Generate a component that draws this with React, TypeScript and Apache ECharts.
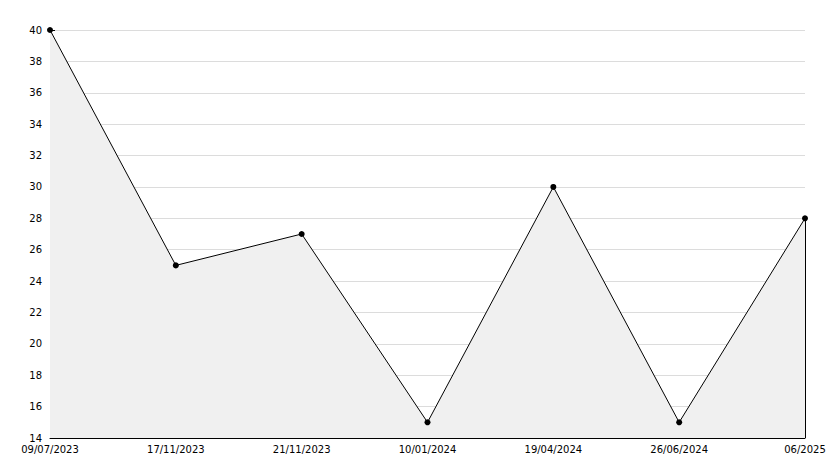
import React, { useEffect, useRef } from "react";
import * as echarts from "echarts";

const categories = ["09/07/2023", "17/11/2023", "21/11/2023", "10/01/2024", "19/04/2024", "26/06/2024", "06/2025"];
const values = [40, 25, 27, 15, 30, 15, 28];
const yMin = 14;
const yMax = 40;
const yStep = 2;

export default function App() {
  const ref = useRef<HTMLDivElement>(null);
  useEffect(() => {
    if (!ref.current) return;
    const chart = echarts.init(ref.current, null, { renderer: "svg" });
    const lastIdx = categories.length - 1;
    chart.setOption({
      animation: false,
      backgroundColor: "#ffffff",
      grid: { left: 50, right: 29, top: 30, bottom: 30 },
      xAxis: {
        type: "category",
        data: categories,
        boundaryGap: false,
        axisLine: { lineStyle: { color: "#000", width: 1 } },
        axisTick: { inside: true, length: 5, lineStyle: { color: "#000" } },
        axisLabel: { color: "#000", fontFamily: "DejaVu Sans", fontSize: 10, margin: 6, interval: 0 },
        splitLine: { show: false },
      },
      yAxis: {
        type: "value",
        min: yMin,
        max: yMax,
        interval: yStep,
        axisLine: { show: true, lineStyle: { color: "#000", width: 1 } },
        axisTick: { show: true, inside: true, length: 5, lineStyle: { color: "#000" } },
        minorTick: { show: true, splitNumber: 2, length: 4, lineStyle: { color: "#000" } },
        axisLabel: { color: "#000", fontFamily: "DejaVu Sans", fontSize: 10, margin: 8 },
        splitLine: { show: true, lineStyle: { color: "#dcdcdc", width: 1 } },
      },
      series: [
        {
          type: "line",
          data: values,
          symbol: "circle",
          symbolSize: 6,
          itemStyle: { color: "#000" },
          lineStyle: { color: "#000", width: 1 },
          areaStyle: { color: "#f0f0f0", opacity: 1 },
          markLine: {
            silent: true,
            symbol: "none",
            label: { show: false },
            lineStyle: { color: "#000", width: 1, type: "solid" },
            data: [[{ coord: [lastIdx, yMin] }, { coord: [lastIdx, values[lastIdx]] }]],
          },
        },
      ],
    });
    return () => chart.dispose();
  }, []);
  return <div ref={ref} style={{ width: 834, height: 468, position: "absolute", left: 0, top: 0 }} />;
}
